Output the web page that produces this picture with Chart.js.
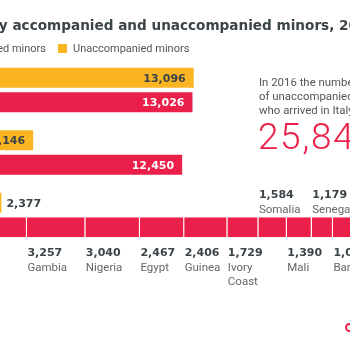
<!DOCTYPE html>
<html>
<head>
<meta charset="utf-8">
<script src="https://cdn.jsdelivr.net/npm/chart.js@4"></script>
<style>
  body { margin: 0; background: #fff; }
  #wrap { position: relative; width: 350px; height: 350px; overflow: hidden; }
  #chart { position: absolute; left: 0; top: 0; }
  .title { position: absolute; top: 17px; white-space: nowrap; font: bold 13.6px "DejaVu Sans", sans-serif; color: #3b4448; }
  .legend { position: absolute; top: 42px; white-space: nowrap; font: 11px Roboto, sans-serif; color: #555; line-height: 14px; }
  .legend i { display: inline-block; width: 9px; height: 9px; margin-right: 6px; vertical-align: -1px; }
  .note { position: absolute; left: 259px; top: 75px; white-space: nowrap; font: 11.4px Roboto, sans-serif; color: #555; line-height: 14px; }
  .big { position: absolute; left: 258px; top: 117px; white-space: nowrap; font: 300 37px Roboto, sans-serif; letter-spacing: 1.6px; color: #ea2049; line-height: 40px; }
  .logo { position: absolute; left: 345px; top: 323px; width: 5px; height: 5px; border: 2px solid #ea2049; border-radius: 50%; }
</style>
</head>
<body>
<div id="wrap">
  <canvas id="chart" width="350" height="350"></canvas>
  <div class="title" id="title"><span id="titleCut">Arrivals b</span>y accompanied and unaccompanied minors, 2016</div>
  <div class="legend" style="right: 304px;"><i style="background:#ea2049"></i>Accompanied minors</div>
  <div class="legend" style="left: 58px;"><i style="background:#fbb523"></i>Unaccompanied minors</div>
  <div class="note">In 2016 the number<br>of unaccompanied minors<br>who arrived in Italy was</div>
  <div class="big">25,846</div>
  <div class="logo"></div>
</div>
<script>
const categories = ['Greece', 'Bulgaria', 'Italy'];
const unaccompanied = [13096, 4146, 2377];
const accompanied = [13026, 12450, null];
const countries = ['Eritrea', 'Gambia', 'Nigeria', 'Egypt', 'Guinea', 'Ivory Coast', 'Somalia', 'Mali', 'Senegal', 'Bangladesh'];
const countryValues = [3800, 3257, 3040, 2467, 2406, 1729, 1584, 1390, 1179, 1050];

const YELLOW = '#fbb523';
const RED = '#ea1f4a';
const DARK = '#3b4448';
const labelsAbove = ['Somalia', 'Senegal'];

// shift title so the visible part starts at the left edge
const cut = document.getElementById('titleCut').offsetWidth;
document.getElementById('title').style.left = (-cut - 1) + 'px';

const datasets = [
    { label: 'Unaccompanied minors', data: unaccompanied, backgroundColor: YELLOW, stack: 'u' },
    { label: 'Accompanied minors', data: accompanied, backgroundColor: RED, stack: 'a' }
];
countries.forEach((c, i) => {
    datasets.push({
        label: c,
        country: true,
        data: categories.map((_, j) => j === 2 ? countryValues[i] : null),
        backgroundColor: RED,
        borderColor: '#fff',
        borderWidth: { top: 0, bottom: 0, left: 0, right: 1 },
        borderSkipped: false,
        stack: 'a'
    });
});

const barLabels = {
    id: 'barLabels',
    afterDatasetsDraw(chart) {
        const ctx = chart.ctx;
        const area = chart.chartArea;
        ctx.save();
        ctx.textBaseline = 'middle';
        chart.data.datasets.forEach((ds, di) => {
            const meta = chart.getDatasetMeta(di);
            meta.data.forEach((bar, i) => {
                const v = ds.data[i];
                if (v == null) return;
                const txt = v.toLocaleString('en-US');
                const h = bar.height;
                if (ds.country) {
                    const x = bar.base + 0.5;
                    const above = labelsAbove.includes(ds.label);
                    ctx.textAlign = 'left';
                    let y = above ? bar.y - h / 2 - 22 : bar.y + h / 2 + 16;
                    ctx.font = 'bold 11px "DejaVu Sans"';
                    ctx.fillStyle = DARK;
                    ctx.fillText(txt, x, y);
                    ctx.font = '11.5px Roboto';
                    ctx.fillStyle = '#666';
                    const segW = bar.x - bar.base;
                    let lines = [ds.label];
                    if (ds.label.includes(' ') && ctx.measureText(ds.label).width > segW) lines = ds.label.split(' ');
                    lines.forEach((l, k) => ctx.fillText(l, x, y + 14.5 + k * 14));
                    return;
                }
                ctx.font = 'bold 11px "DejaVu Sans"';
                if (bar.x - area.left < 10) {
                    ctx.textAlign = 'left';
                    ctx.fillStyle = DARK;
                    ctx.fillText(txt, bar.x + 5, bar.y + 1);
                } else {
                    ctx.textAlign = 'right';
                    ctx.fillStyle = ds.backgroundColor === YELLOW ? DARK : '#fff';
                    ctx.fillText(txt, bar.x - 8, bar.y + 1);
                }
            });
        });
        ctx.restore();
    }
};

new Chart(document.getElementById('chart'), {
    type: 'bar',
    data: { labels: categories, datasets: datasets },
    options: {
        indexAxis: 'y',
        responsive: false,
        animation: false,
        categoryPercentage: 0.784,
        barPercentage: 0.816,
        layout: { padding: { top: 58.75, bottom: 103.75, left: 0, right: 0 } },
        plugins: {
            legend: { display: false },
            title: { display: false },
            tooltip: { enabled: false }
        },
        scales: {
            x: { display: false, stacked: true, min: 2300, max: 21804 },
            y: { display: false }
        }
    },
    plugins: [barLabels]
});
</script>
</body>
</html>
